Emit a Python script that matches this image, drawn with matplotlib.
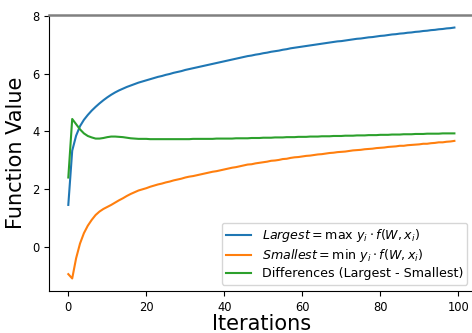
import matplotlib
matplotlib.use("Agg")
import matplotlib.pyplot as plt
import numpy as np

iterations = list(range(100))

largest = [
    1.45, 3.33, 3.85, 4.18, 4.40, 4.57, 4.72, 4.85, 4.97, 5.08,
    5.18, 5.27, 5.35, 5.42, 5.48, 5.54, 5.59, 5.64, 5.69, 5.73,
    5.77, 5.81, 5.85, 5.89, 5.92, 5.96, 5.99, 6.03, 6.06, 6.09,
    6.13, 6.16, 6.19, 6.22, 6.25, 6.28, 6.31, 6.34, 6.37, 6.40,
    6.43, 6.46, 6.49, 6.52, 6.55, 6.58, 6.61, 6.63, 6.66, 6.68,
    6.71, 6.73, 6.76, 6.78, 6.80, 6.83, 6.85, 6.88, 6.90, 6.92,
    6.94, 6.96, 6.98, 7.00, 7.02, 7.04, 7.06, 7.08, 7.10, 7.12,
    7.13, 7.15, 7.17, 7.19, 7.21, 7.22, 7.24, 7.26, 7.27, 7.29,
    7.31, 7.32, 7.34, 7.36, 7.37, 7.39, 7.40, 7.42, 7.43, 7.45,
    7.46, 7.48, 7.49, 7.51, 7.52, 7.54, 7.55, 7.57, 7.58, 7.60,
]

smallest = [
    -0.95, -1.10, -0.40, 0.11, 0.47, 0.73, 0.93, 1.10, 1.22, 1.31,
    1.38, 1.45, 1.53, 1.61, 1.68, 1.76, 1.83, 1.89, 1.95, 1.99,
    2.03, 2.08, 2.12, 2.16, 2.19, 2.23, 2.26, 2.30, 2.33, 2.36,
    2.40, 2.43, 2.45, 2.48, 2.51, 2.54, 2.57, 2.60, 2.62, 2.65,
    2.68, 2.71, 2.74, 2.76, 2.79, 2.82, 2.85, 2.86, 2.89, 2.91,
    2.93, 2.95, 2.98, 2.99, 3.01, 3.04, 3.05, 3.08, 3.10, 3.11,
    3.13, 3.15, 3.16, 3.18, 3.20, 3.21, 3.23, 3.25, 3.26, 3.28,
    3.29, 3.30, 3.32, 3.34, 3.35, 3.36, 3.38, 3.39, 3.40, 3.42,
    3.43, 3.44, 3.46, 3.47, 3.48, 3.50, 3.50, 3.52, 3.53, 3.54,
    3.55, 3.57, 3.57, 3.59, 3.60, 3.62, 3.62, 3.64, 3.65, 3.67,
]

differences = list(np.array(largest) - np.array(smallest))

labels = [
    r'$Largest = \max\ y_i \cdot f(W, x_i)$',
    r'$Smallest = \min\ y_i \cdot f(W, x_i)$',
    'Differences (Largest - Smallest)',
]

fig = plt.figure(figsize=(4.72, 3.33), dpi=100)
ax = fig.add_axes([49 / 472, 1 - 291 / 333, 424.7 / 472, (291 - 15) / 333])

ax.plot(iterations, largest, color='#1f77b4', lw=1.5, label=labels[0])
ax.plot(iterations, smallest, color='#ff7f0e', lw=1.5, label=labels[1])
ax.plot(iterations, differences, color='#2ca02c', lw=1.5, label=labels[2])

ax.set_xlabel('Iterations', fontsize=15, labelpad=0)
ax.set_ylabel('Function Value', fontsize=15, labelpad=4)
ax.tick_params(labelsize=8.3)
ax.set_xticks([0, 20, 40, 60, 80, 100])
ax.set_yticks([0, 2, 4, 6, 8])

ax.spines['right'].set_visible(False)
ax.spines['top'].set_color('#808080')
ax.spines['top'].set_linewidth(1.8)

ax.legend(loc='lower right', fontsize=9.1, labelspacing=0.25, borderpad=0.35)

fig.savefig('out.png', dpi=100)
